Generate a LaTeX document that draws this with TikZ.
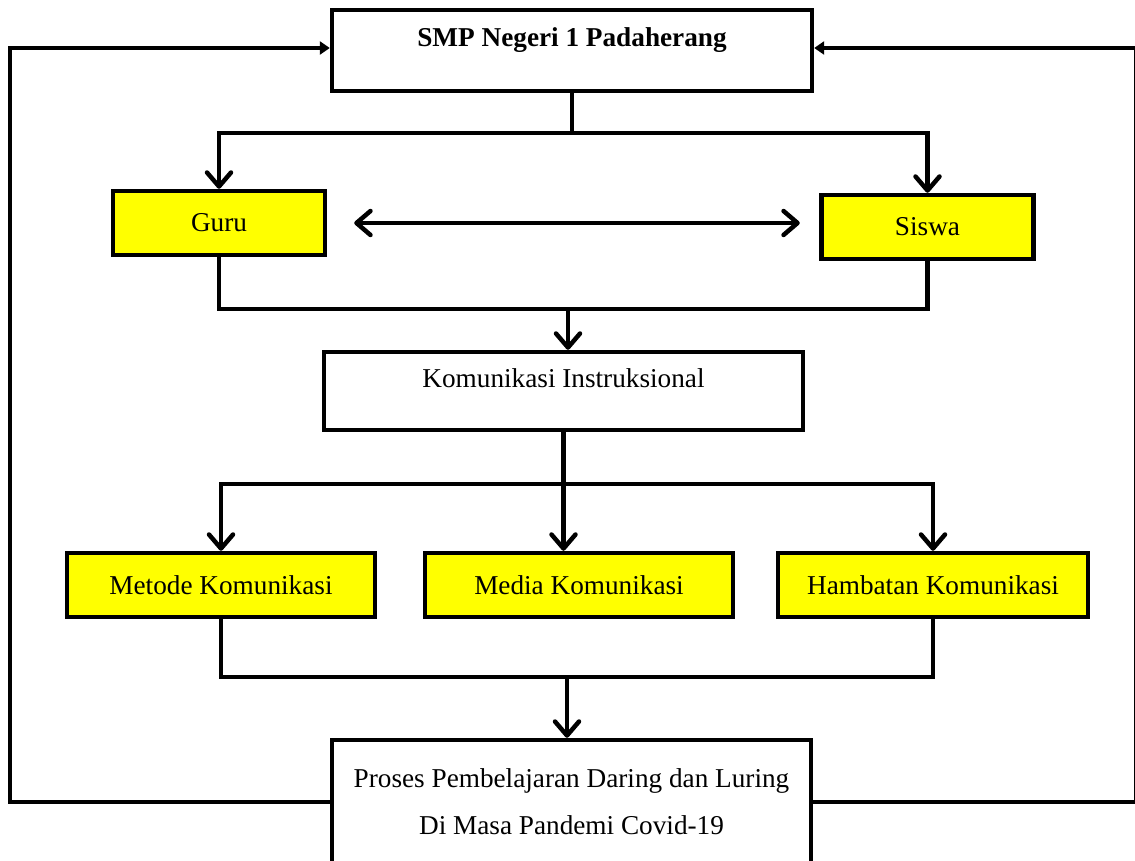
\documentclass[tikz,border=0pt]{standalone}
\usepackage{fontspec}
\setmainfont{Liberation Serif}
\usetikzlibrary{arrows.meta, positioning, calc}
\definecolor{boxyellow}{RGB}{255,255,0}

\begin{document}
\begin{tikzpicture}[x=0.02cm, y=-0.02cm, line width=0.09cm,
    box/.style={draw, rectangle, inner sep=0pt, align=center, font=\fontsize{15.5}{26.7}\selectfont},
    hibox/.style={box, fill=boxyellow, minimum height=1.28cm},
    barb/.style={-{Straight Barb[length=0.28cm, width=0.48cm, round]}},
    dbl/.style={{Straight Barb[length=0.28cm, width=0.48cm, round]}-{Straight Barb[length=0.28cm, width=0.48cm, round]}},
    tri/.style={-{Triangle[length=0.2cm, width=0.26cm]}}]
        \useasboundingbox (0,0) rectangle (1135,861);
        % boxes
        \node[box, minimum width=9.6cm, text height=0.74cm, text depth=0.88cm, font=\fontsize{15.5}{18}\selectfont\bfseries] (smp) at (572,50.5) {SMP Negeri 1 Padaherang};
        \node[hibox, minimum width=4.24cm] (guru) at (219,223) {Guru};
        \node[hibox, minimum width=4.24cm] (siswa) at (927.5,227) {Siswa};
        \node[box, minimum width=9.58cm, text height=0.70cm, text depth=0.86cm] (kom) at (563.5,391) {Komunikasi Instruksional};
        \node[hibox, minimum width=6.16cm] (metode) at (221,585) {Metode Komunikasi};
        \node[hibox, minimum width=6.16cm] (media) at (579,585) {Media Komunikasi};
        \node[hibox, minimum width=6.2cm] (hambatan) at (933,585) {Hambatan Komunikasi};
        \node[box, minimum width=9.58cm, minimum height=2.48cm, yshift=-0.08cm] (proses) at (571.5,798) {Proses Pembelajaran Daring dan Luring\\Di Masa Pandemi Covid-19};
        % branch points
        \coordinate (split1) at (572,133);
        \coordinate (join1) at (568,309);
        \coordinate (split2) at (566,484);
        \coordinate (join2) at (567,677);
        \coordinate (cornerL) at (10,48);
        \coordinate (cornerR) at (1136.5,48);
        % connectors
        \draw (smp.south) -- (split1);
        \draw[barb] (split1) -| (guru.north);
        \draw[barb] (split1) -| (siswa.north);
        \draw[dbl, shorten <=0.54cm, shorten >=0.39cm] (guru.east) -- (guru.east -| siswa.west);
        \draw (guru.south) |- (join1);
        \draw (siswa.south) |- (join1);
        \draw[barb] (join1) -- (join1 |- kom.north);
        \draw[barb] (kom.south) -- (kom.south |- media.north);
        \draw[barb] (split2) -| (metode.north);
        \draw[barb] (split2) -| (hambatan.north);
        \draw (metode.south) |- (join2);
        \draw (hambatan.south) |- (join2);
        \draw[barb] (join2) -- (join2 |- proses.north);
        \draw[tri] (proses.west) -| (cornerL) -- (cornerL -| smp.west);
        \draw[tri] (proses.east) -| (cornerR) -- (cornerR -| smp.east);
\end{tikzpicture}
\end{document}
